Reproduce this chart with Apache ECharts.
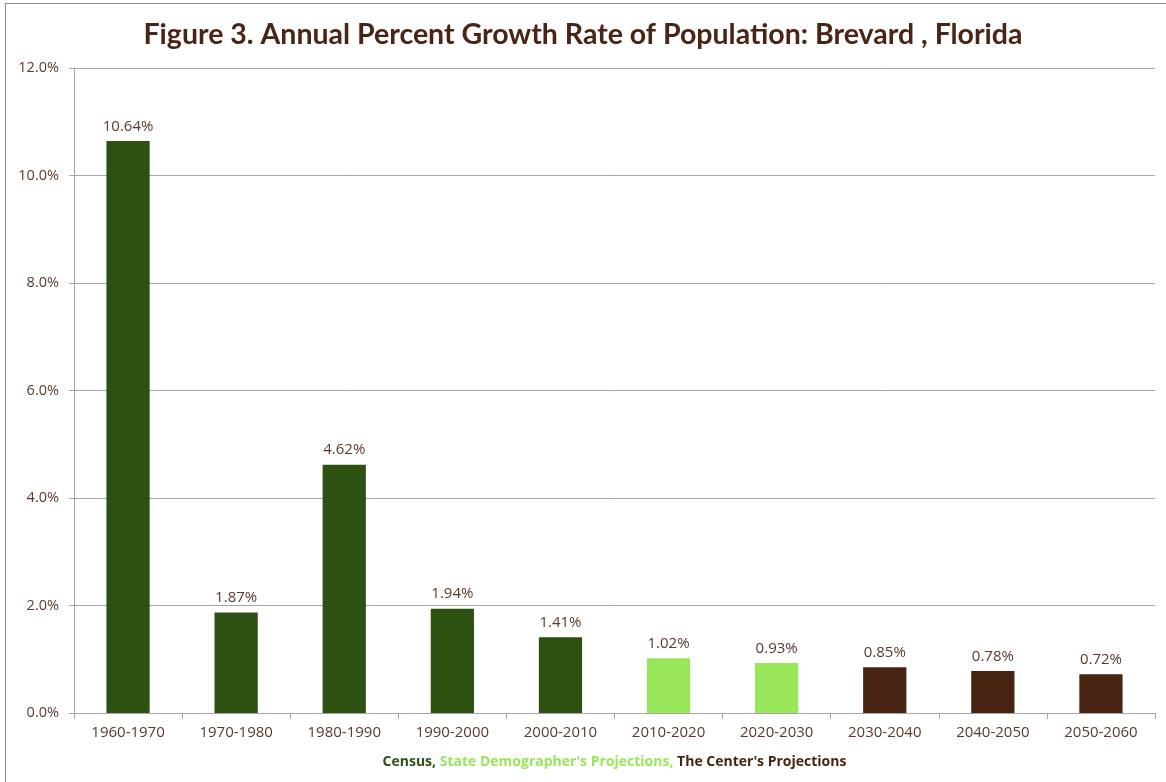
<!DOCTYPE html>
<html><head><meta charset="utf-8">
<script src="https://cdn.jsdelivr.net/npm/echarts@6/dist/echarts.min.js"></script>
<style>html,body{margin:0;padding:0;background:#fff}#c{width:1166px;height:782px}
#frame{position:absolute;left:5px;top:3px;width:1170px;height:790px;border:1px solid #8c8c8c;pointer-events:none}</style>
</head><body><div id="c"></div><div id="frame"></div>
<script>
const categories = ['1960-1970','1970-1980','1980-1990','1990-2000','2000-2010','2010-2020','2020-2030','2030-2040','2040-2050','2050-2060'];
const growthRates = [10.64, 1.87, 4.62, 1.94, 1.41, 1.02, 0.93, 0.85, 0.78, 0.72];
const sourceGroup = [0,0,0,0,0,1,1,2,2,2];
const groupNames = ['Census','State Demographer\'s Projections','The Center\'s Projections'];
const yTicks = [0, 2, 4, 6, 8, 10, 12];
const groupColors = ['#2d5110','#98e65a','#472412'];
const txt = '#5a3a2c';
const chart = echarts.init(document.getElementById('c'));
const nameFont = {fontFamily:'Open Sans',fontWeight:'bold',fontSize:14};
chart.setOption({
  animation:false,
  title:{text:'Figure 3. Annual Percent Growth Rate of Population: Brevard , Florida',left:'center',top:15,
    textStyle:{fontFamily:'Lato',fontWeight:'bold',fontSize:28.5,color:'#4a2414'}},
  grid:{left:74,right:11,top:68,bottom:69},
  xAxis:{type:'category',data:categories,
    axisLine:{lineStyle:{color:'#a6a6a6'}},
    axisTick:{show:true,alignWithLabel:false,length:6,lineStyle:{color:'#a6a6a6'}},
    axisLabel:{color:txt,fontFamily:'Open Sans',fontSize:15,margin:12},
    name:'{a|'+groupNames[0]+', }{b|'+groupNames[1]+', }{c|'+groupNames[2]+'}',
    nameLocation:'middle',nameGap:42,
    nameTextStyle:{rich:{
      a:Object.assign({color:groupColors[0]},nameFont),
      b:Object.assign({color:groupColors[1]},nameFont),
      c:Object.assign({color:groupColors[2]},nameFont)}}},
  yAxis:{type:'value',min:yTicks[0],max:yTicks[yTicks.length-1],interval:2,
    axisLine:{show:true,lineStyle:{color:'#a6a6a6'}},
    axisTick:{show:true,length:5,lineStyle:{color:'#a6a6a6'}},
    splitLine:{lineStyle:{color:'#a6a6a6'}},
    axisLabel:{color:txt,fontFamily:'Open Sans',fontSize:14.5,margin:15,formatter:v=>v.toFixed(1)+'%'}},
  series:[{type:'bar',barWidth:'40%',
    data:growthRates.map((v,i)=>({value:v,itemStyle:{color:groupColors[sourceGroup[i]]}})),
    label:{show:true,position:'top',distance:7,color:txt,fontFamily:'Open Sans',fontSize:15,formatter:p=>p.value.toFixed(2)+'%'}}]
});
</script></body></html>
